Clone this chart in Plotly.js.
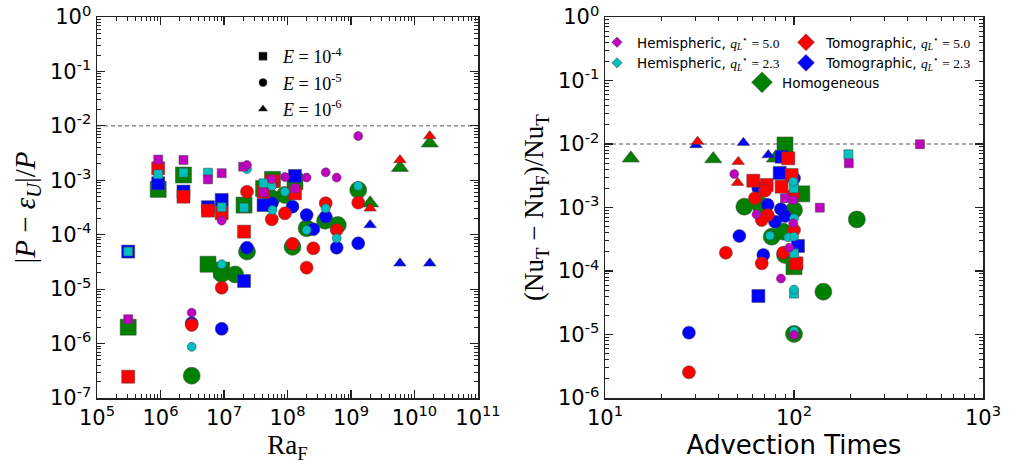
<!DOCTYPE html>
<html>
<head>
<meta charset="utf-8">
<script src="https://cdn.plot.ly/plotly-3.0.1.min.js"></script>
<style>html,body{margin:0;padding:0;background:#fff}#chart{width:1017px;height:466px}</style>
</head>
<body>
<div id="chart"></div>
<script>
// ---------------- DATA: left panel |P - eps_U|/P vs Ra_F ----------------
// E = 1e-4 (squares)
const ra_E4_homo  = [3.1e5, 9.2e5, 2.3e6, 5.6e6, 9.2e6, 2.07e7, 4.2e7, 5.8e7, 1.31e8];
const pe_E4_homo  = [2.0e-6, 6.8e-4, 1.25e-3, 2.87e-5, 2.24e-5, 3.5e-4, 7.1e-4, 1.04e-3, 9.4e-4];
const ra_E4_tom23 = [3.1e5, 9.2e5, 2.3e6, 5.6e6, 9.2e6, 2.07e7, 4.2e7, 1.31e8];
const pe_E4_tom23 = [4.9e-5, 8.8e-4, 6.2e-4, 3.2e-4, 4.36e-4, 1.41e-5, 3.5e-4, 1.2e-3];
const ra_E4_tom50 = [3.1e5, 9.2e5, 2.3e6, 5.6e6, 9.2e6, 2.07e7, 4.2e7, 5.8e7, 1.31e8];
const pe_E4_tom50 = [2.46e-7, 1.66e-3, 5.0e-4, 2.77e-4, 2.47e-4, 1.14e-4, 6.17e-4, 9.7e-4, 5.75e-4];
const ra_E4_hem23 = [3.1e5, 9.2e5, 2.3e6, 5.6e6, 9.2e6, 2.07e7, 4.2e7];
const pe_E4_hem23 = [4.9e-5, 1.29e-3, 1.38e-3, 1.38e-3, 3.2e-4, 3.15e-4, 8.8e-4];
const ra_E4_hem50 = [3.1e5, 9.2e5, 2.3e6, 5.6e6, 9.2e6, 2.0e7, 4.2e7, 1.31e8];
const pe_E4_hem50 = [2.8e-6, 2.4e-3, 2.36e-3, 1.04e-3, 1.35e-3, 1.78e-3, 6.0e-4, 7.1e-4];
// E = 1e-5 (circles)
const ra_E5_homo  = [3.1e6, 9.2e6, 1.5e7, 2.3e7, 5.65e7, 9.1e7, 1.2e8, 2.0e8, 3.9e8, 6.2e8, 1.3e9];
const pe_E5_homo  = [2.57e-7, 1.9e-5, 1.86e-5, 4.9e-5, 4.67e-4, 5.37e-4, 6.0e-5, 1.31e-4, 1.8e-4, 1.51e-4, 6.6e-4];
const ra_E5_tom23 = [3.1e6, 9.2e6, 2.3e7, 5.65e7, 1.2e8, 2.0e8, 2.55e8, 4.0e8, 5.95e8, 1.3e9];
const pe_E5_tom23 = [2.36e-6, 1.87e-6, 5.77e-5, 3.8e-4, 3.27e-4, 2.3e-4, 1.26e-4, 2.14e-4, 5.77e-5, 6.95e-5];
const ra_E5_tom50 = [3.1e6, 9.2e6, 2.3e7, 5.65e7, 9.1e7, 1.2e8, 2.0e8, 2.55e8, 4.0e8, 5.95e8, 1.3e9];
const pe_E5_tom50 = [2.2e-6, 1.06e-5, 6.17e-4, 1.92e-4, 2.47e-4, 6.8e-5, 2.48e-5, 5.63e-5, 3.8e-4, 1.22e-4, 3.9e-4];
const ra_E5_hem23 = [3.1e6, 9.2e6, 2.3e7, 5.65e7, 5.8e7, 9.1e7, 2.0e8, 4.0e8, 5.95e8, 1.3e9];
const pe_E5_hem23 = [8.7e-7, 2.87e-5, 1.6e-3, 7.85e-4, 2.85e-4, 6.17e-4, 1.22e-4, 3.05e-4, 8.6e-5, 7.85e-4];
const ra_E5_hem50 = [3.1e6, 9.2e6, 2.3e7, 5.65e7, 9.1e7, 2.0e8, 4.0e8, 5.95e8, 1.3e9];
const pe_E5_hem50 = [3.7e-6, 1.81e-4, 1.9e-3, 1.05e-3, 1.15e-3, 1.12e-3, 1.4e-3, 1.12e-3, 6.5e-3];
// E = 1e-6 (triangles)
const ra_E6       = [2.0e9, 5.9e9, 1.74e10];
const pe_E6_homo  = [3.8e-4, 1.7e-3, 4.8e-3];
const pe_E6_tom23 = [1.51e-4, 2.98e-5, 2.98e-5];
const pe_E6_tom50 = [3.05e-4, 2.36e-3, 6.5e-3];

// ---------------- DATA: right panel (Nu_T - Nu_F)/Nu_T vs advection times ----------------
const adv_E4_homo  = [89.6, 110, 100];
const nu_E4_homo   = [9.65e-3, 1.64e-3, 1.17e-4];
const adv_E4_tom23 = [86, 84, 105, 64.8];
const nu_E4_tom23  = [6.3e-3, 3.5e-3, 2.48e-4, 4.04e-5];
const adv_E4_tom50 = [93.3, 97.2, 60.9, 71.7, 86, 103];
const nu_E4_tom50  = [5.95e-3, 3.25e-3, 2.64e-3, 2.26e-3, 2.13e-3, 1.32e-4];
const adv_E4_hem23 = [194, 100, 100, 100];
const nu_E4_hem23  = [6.9e-3, 2.0e-3, 1.9e-4, 4.4e-5];
const adv_E4_hem50 = [464, 195, 137, 89.6];
const nu_E4_hem50  = [9.9e-3, 4.97e-3, 9.93e-4, 1.4e-3];

const adv_E5_homo  = [54.6, 66, 100, 76.2, 87.8, 89.6, 143, 215, 100];
const nu_E5_homo   = [1.03e-3, 1.1e-3, 9.14e-4, 3.47e-4, 4.16e-4, 1.79e-4, 4.72e-5, 6.5e-4, 1.02e-5];
const adv_E5_tom23 = [64.8, 100, 72.6, 85.3, 79.3, 89.6, 51.4, 68.8, 27.8];
const nu_E5_tom23  = [2.0e-3, 2.88e-3, 1.1e-3, 9.4e-4, 5.97e-4, 7.35e-4, 3.56e-4, 1.79e-4, 1.07e-5];
const adv_E5_tom50 = [70.3, 62.2, 72.6, 67.5, 99.1, 100, 87.8, 67.5, 43.6, 27.8];
const nu_E5_tom50  = [1.84e-3, 1.4e-3, 7.6e-4, 6.35e-4, 1.57e-3, 4.42e-4, 1.94e-4, 1.32e-4, 1.94e-4, 2.54e-6];
const adv_E5_hem23 = [99.1, 100, 74.6, 93.3, 100, 100, 100];
const nu_E5_hem23  = [2.55e-3, 6.76e-4, 3.6e-4, 3.39e-4, 3.47e-4, 5.1e-5, 1.14e-5];
const adv_E5_hem50 = [48.3, 99.1, 99.1, 94.4, 85.3, 100, 63.3];
const nu_E5_hem50  = [3.37e-3, 1.31e-3, 5.63e-4, 2.33e-4, 7.6e-5, 9.8e-6, 7.8e-4];

const adv_E6_homo  = [13.7, 37.4, 79.3];
const nu_E6_homo   = [5.95e-3, 5.8e-3, 5.95e-3];
const adv_E6_tom23 = [30.3, 54.0, 73.1];
const nu_E6_tom23  = [9.65e-3, 1.05e-2, 6.7e-3];
const adv_E6_tom50 = [30.9, 50.7, 50.3];
const nu_E6_tom50  = [1.09e-2, 5.27e-3, 2.46e-3];

const threshold = 1e-2;

// tick labels
const leftXTicks  = [1e5, 1e6, 1e7, 1e8, 1e9, 1e10, 1e11];
const leftXText   = ['10<sup>5</sup>','10<sup>6</sup>','10<sup>7</sup>','10<sup>8</sup>','10<sup>9</sup>','10<sup>10</sup>','10<sup>11</sup>'];
const leftYTicks  = [1e-7, 1e-6, 1e-5, 1e-4, 1e-3, 1e-2, 1e-1, 1];
const leftYText   = ['10<sup>-7</sup>','10<sup>-6</sup>','10<sup>-5</sup>','10<sup>-4</sup>','10<sup>-3</sup>','10<sup>-2</sup>','10<sup>-1</sup>','10<sup>0</sup>'];
const rightXTicks = [10, 100, 1000];
const rightXText  = ['10<sup>1</sup>','10<sup>2</sup>','10<sup>3</sup>'];
const rightYTicks = [1e-6, 1e-5, 1e-4, 1e-3, 1e-2, 1e-1, 1];
const rightYText  = ['10<sup>-6</sup>','10<sup>-5</sup>','10<sup>-4</sup>','10<sup>-3</sup>','10<sup>-2</sup>','10<sup>-1</sup>','10<sup>0</sup>'];

// ---------------- STYLE ----------------
const COL = {homo:'#008000', tom23:'#0000ff', tom50:'#ff0000', hem23:'#00bfbf', hem50:'#bf00bf'};
const SZ = {
  square:  {homo:16, tom23:13, tom50:13, hem23:9, hem50:9},
  circle:  {homo:17, tom23:13, tom50:13, hem23:9, hem50:9},
  'triangle-up': {homo:15, tom23:11, tom50:11, hem23:8, hem50:8}
};
function minorVals(lo, hi){ const v=[]; for(let k=lo;k<hi;k++){ for(let d=2;d<=9;d++) v.push(d*Math.pow(10,k)); } return v; }

function mk(x, y, xa, ya, sym, grp){
  return {type:'scatter', mode:'markers', x:x, y:y, xaxis:xa, yaxis:ya, showlegend:false, hoverinfo:'skip',
    marker:{symbol:sym, color:COL[grp], size:SZ[sym][grp], line:{width:0.7, color:'rgba(70,70,70,0.75)'}}};
}

const traces = [];
// threshold lines
traces.push({type:'scatter', mode:'lines', x:[1e5,1e11], y:[threshold,threshold], xaxis:'x', yaxis:'y', showlegend:false, hoverinfo:'skip', line:{color:'#555', width:1, dash:'4px,3px'}});
traces.push({type:'scatter', mode:'lines', x:[10,1000], y:[threshold,threshold], xaxis:'x2', yaxis:'y2', showlegend:false, hoverinfo:'skip', line:{color:'#555', width:1, dash:'4px,3px'}});

// left panel, drawing order: green, blue, red, cyan, magenta
traces.push(mk(ra_E4_homo, pe_E4_homo, 'x','y','square','homo'));
traces.push(mk(ra_E5_homo, pe_E5_homo, 'x','y','circle','homo'));
traces.push(mk(ra_E6, pe_E6_homo, 'x','y','triangle-up','homo'));
traces.push(mk(ra_E4_tom23, pe_E4_tom23, 'x','y','square','tom23'));
traces.push(mk(ra_E5_tom23, pe_E5_tom23, 'x','y','circle','tom23'));
traces.push(mk(ra_E6, pe_E6_tom23, 'x','y','triangle-up','tom23'));
traces.push(mk(ra_E4_tom50, pe_E4_tom50, 'x','y','square','tom50'));
traces.push(mk(ra_E5_tom50, pe_E5_tom50, 'x','y','circle','tom50'));
traces.push(mk(ra_E6, pe_E6_tom50, 'x','y','triangle-up','tom50'));
traces.push(mk(ra_E4_hem23, pe_E4_hem23, 'x','y','square','hem23'));
traces.push(mk(ra_E5_hem23, pe_E5_hem23, 'x','y','circle','hem23'));
traces.push(mk(ra_E4_hem50, pe_E4_hem50, 'x','y','square','hem50'));
traces.push(mk(ra_E5_hem50, pe_E5_hem50, 'x','y','circle','hem50'));

// right panel
traces.push(mk(adv_E4_homo, nu_E4_homo, 'x2','y2','square','homo'));
traces.push(mk(adv_E5_homo, nu_E5_homo, 'x2','y2','circle','homo'));
traces.push(mk(adv_E6_homo, nu_E6_homo, 'x2','y2','triangle-up','homo'));
traces.push(mk(adv_E4_tom23, nu_E4_tom23, 'x2','y2','square','tom23'));
traces.push(mk(adv_E5_tom23, nu_E5_tom23, 'x2','y2','circle','tom23'));
traces.push(mk(adv_E6_tom23, nu_E6_tom23, 'x2','y2','triangle-up','tom23'));
traces.push(mk(adv_E4_tom50, nu_E4_tom50, 'x2','y2','square','tom50'));
traces.push(mk(adv_E5_tom50, nu_E5_tom50, 'x2','y2','circle','tom50'));
traces.push(mk(adv_E6_tom50, nu_E6_tom50, 'x2','y2','triangle-up','tom50'));
traces.push(mk(adv_E4_hem23, nu_E4_hem23, 'x2','y2','square','hem23'));
traces.push(mk(adv_E5_hem23, nu_E5_hem23, 'x2','y2','circle','hem23'));
traces.push(mk(adv_E4_hem50, nu_E4_hem50, 'x2','y2','square','hem50'));
traces.push(mk(adv_E5_hem50, nu_E5_hem50, 'x2','y2','circle','hem50'));

// legend entries
const SERIF = 'Liberation Serif, DejaVu Serif, serif';
const mathE = e => '<span style="font-family:Liberation Serif"><i>E</i> = 10<sup>' + e + '</sup></span>';
function leg(name, sym, color, size, legendId, xa, ya){
  return {type:'scatter', mode:'markers', x:[null], y:[null], xaxis:xa, yaxis:ya, name:name, legend:legendId, showlegend:true, hoverinfo:'skip',
    marker:{symbol:sym, color:color, size:size, line:{width:0.7, color:'rgba(70,70,70,0.75)'}}};
}
traces.push(leg(mathE('-4'), 'square', '#000', 8, 'legend', 'x', 'y'));
traces.push(leg(mathE('-5'), 'circle', '#000', 8, 'legend', 'x', 'y'));
traces.push(leg(mathE('-6'), 'triangle-up', '#000', 8, 'legend', 'x', 'y'));
const qL = v => '<span style="font-family:Liberation Serif"><i>q</i><sub><i>L</i></sub><sup>⋆</sup> = ' + v + '</span>';
traces.push(leg('Hemispheric, ' + qL('5.0'), 'diamond', COL.hem50, 8, 'legend2', 'x2', 'y2'));
traces.push(leg('Hemispheric, ' + qL('2.3'), 'diamond', COL.hem23, 8, 'legend2', 'x2', 'y2'));
traces.push(leg('Tomographic, ' + qL('5.0'), 'diamond', COL.tom50, 13, 'legend3', 'x2', 'y2'));
traces.push(leg('Tomographic, ' + qL('2.3'), 'diamond', COL.tom23, 13, 'legend3', 'x2', 'y2'));
traces.push(leg('Homogeneous', 'diamond', COL.homo, 16, 'legend4', 'x2', 'y2'));

const TICKFONT = {family:'DejaVu Sans', size:21, color:'#000'};
function axBase(extra){
  return Object.assign({type:'log', showgrid:false, zeroline:false, ticks:'inside', ticklen:8, tickwidth:1.2, tickcolor:'#222',
    linecolor:'#222', linewidth:1.5, mirror:'allticks', showline:true, tickmode:'array', tickfont:TICKFONT, automargin:false}, extra);
}
const yDom = [1 - 398/466, 1 - 17/466];
const layout = {
  width:1017, height:466, margin:{l:0, r:0, t:0, b:0}, paper_bgcolor:'#fff', plot_bgcolor:'#fff', showlegend:true,
  xaxis: axBase({domain:[97/1017, 478/1017], range:[5,11], anchor:'y', tickvals:leftXTicks, ticktext:leftXText,
    minor:{ticks:'inside', ticklen:4, tickwidth:1, tickcolor:'#222', tickmode:'array', tickvals:minorVals(5,11)},
    title:{text:'Ra<sub>F</sub>', font:{family:SERIF, size:27, color:'#000'}, standoff:6}}),
  yaxis: axBase({domain:yDom, range:[-7,0], anchor:'x', tickvals:leftYTicks, ticktext:leftYText,
    minor:{ticks:'inside', ticklen:4, tickwidth:1, tickcolor:'#222', tickmode:'array', tickvals:minorVals(-7,0)},
    title:{text:'|<i>P</i> − <i>ε</i><sub><i>U</i></sub>|/<i>P</i>', font:{family:SERIF, size:29, color:'#000'}, standoff:6}}),
  xaxis2: axBase({domain:[605/1017, 983/1017], range:[1,3], anchor:'y2', tickvals:rightXTicks, ticktext:rightXText,
    minor:{ticks:'inside', ticklen:4, tickwidth:1, tickcolor:'#222', tickmode:'array', tickvals:minorVals(1,3)},
    title:{text:'Advection Times', font:{family:'DejaVu Sans', size:26, color:'#000'}, standoff:6}}),
  yaxis2: axBase({domain:yDom, range:[-6,0], anchor:'x2', tickvals:rightYTicks, ticktext:rightYText,
    minor:{ticks:'inside', ticklen:4, tickwidth:1, tickcolor:'#222', tickmode:'array', tickvals:minorVals(-6,0)},
    title:{text:'(Nu<sub>T</sub> − Nu<sub>F</sub>)/Nu<sub>T</sub>', font:{family:SERIF, size:27, color:'#000'}, standoff:6}}),
  legend:  {x:243/1017, y:1-38/466, xanchor:'left', yanchor:'top', bgcolor:'rgba(0,0,0,0)', borderwidth:0, font:{family:SERIF, size:18, color:'#000'}, tracegroupgap:0},
  legend2: {x:597/1017, y:1-27/466, xanchor:'left', yanchor:'top', bgcolor:'rgba(0,0,0,0)', borderwidth:0, font:{family:'DejaVu Sans', size:13.5, color:'#000'}, tracegroupgap:0},
  legend3: {x:786/1017, y:1-27/466, xanchor:'left', yanchor:'top', bgcolor:'rgba(0,0,0,0)', borderwidth:0, font:{family:'DejaVu Sans', size:13.5, color:'#000'}, tracegroupgap:0},
  legend4: {x:742/1017, y:1-67/466, xanchor:'left', yanchor:'top', bgcolor:'rgba(0,0,0,0)', borderwidth:0, font:{family:'DejaVu Sans', size:13.5, color:'#000'}, tracegroupgap:0}
};
Plotly.newPlot('chart', traces, layout, {staticPlot:true, displayModeBar:false});
</script>
</body>
</html>
